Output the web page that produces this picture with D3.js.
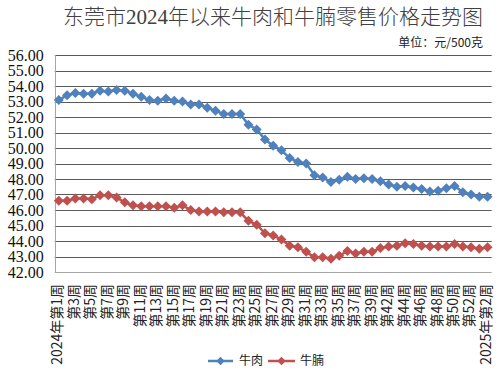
<!DOCTYPE html>
<html><head><meta charset="utf-8">
<script src="https://cdn.jsdelivr.net/npm/d3@7"></script>
<style>
html,body{margin:0;padding:0;background:#fff;}
svg{display:block;}
</style></head>
<body><div id="chart"></div>
<script>
const categories = ["2024年第1周"];
for (let w = 2; w <= 39; w++) categories.push("第" + w + "周");
for (let w = 41; w <= 52; w++) categories.push("第" + w + "周");
categories.push("2025年第1周", "2025年第2周");

const beef = [53.1,53.4,53.55,53.5,53.5,53.7,53.65,53.75,53.7,53.5,
  53.3,53.1,53.05,53.2,53.05,53.0,52.8,52.8,52.6,52.4,
  52.2,52.2,52.2,51.5,51.2,50.55,50.15,49.85,49.35,49.1,
  49.0,48.25,48.1,47.8,47.95,48.15,48.0,48.05,48.0,47.85,
  47.65,47.5,47.55,47.45,47.35,47.2,47.25,47.4,47.55,47.15,
  47.0,46.85,46.85];
const brisket = [46.6,46.6,46.75,46.75,46.7,46.95,46.95,46.8,46.5,46.3,
  46.25,46.25,46.25,46.25,46.15,46.3,46.0,45.9,45.9,45.9,
  45.85,45.85,45.85,45.3,45.05,44.5,44.35,44.1,43.7,43.6,
  43.3,42.95,42.95,42.85,43.05,43.35,43.2,43.3,43.3,43.55,
  43.65,43.7,43.85,43.8,43.7,43.65,43.65,43.65,43.8,43.65,
  43.6,43.5,43.6];
const yTicks = [42,43,44,45,46,47,48,49,50,51,52,53,54,55,56];
const seriesNames = ["牛肉", "牛腩"];
const seriesColors = ["#4F81BD", "#C0504D"];
const titleText = "东莞市2024年以来牛肉和牛腩零售价格走势图";
const unitText = "单位：元/500克";

(function () {
const W = 500, H = 379;
const pL = 54.7, pR = 491.7, pT = 55, pB = 272;

const svg = d3.select("#chart").append("svg").attr("width", W).attr("height", H);

const x = d3.scaleBand().domain(categories).range([pL, pR]).padding(0);
const xc = c => x(c) + x.bandwidth() / 2;
const y = d3.scaleLinear().domain([42, 56]).range([pB, pT]);

// title
svg.append("text").attr("x", 273).attr("y", 24).attr("text-anchor", "middle")
  .attr("font-family", "'Liberation Serif','Noto Sans CJK SC'").attr("font-size", 21)
  .attr("font-weight", 300)
  .attr("fill", "#404040").text(titleText);
svg.append("text").attr("x", 483).attr("y", 47).attr("text-anchor", "end")
  .attr("font-family", "'Noto Sans CJK SC'").attr("font-size", 12)
  .attr("fill", "#222").text(unitText);

// gridlines
svg.append("g").selectAll("line").data(yTicks.filter(t => t > 42)).join("line")
  .attr("x1", pL).attr("x2", pR)
  .attr("y1", d => Math.round(y(d)) + 0.5).attr("y2", d => Math.round(y(d)) + 0.5)
  .attr("stroke", "#5a5a5a").attr("stroke-width", 1);

// axes lines
svg.append("line").attr("x1", pL).attr("x2", pR)
  .attr("y1", Math.round(pB) + 0.5).attr("y2", Math.round(pB) + 0.5)
  .attr("stroke", "#a6a6a6");
svg.append("line").attr("x1", Math.round(pL) + 0.5).attr("x2", Math.round(pL) + 0.5)
  .attr("y1", pT).attr("y2", pB).attr("stroke", "#a6a6a6");

// y axis labels
const yAxis = svg.append("g").attr("transform", `translate(${pL},0)`)
  .call(d3.axisLeft(y).tickValues(yTicks).tickFormat(d3.format(".2f")).tickSize(0).tickPadding(11));
yAxis.select(".domain").remove();
yAxis.selectAll("text").attr("font-family", "'Liberation Serif'").attr("font-size", 16).attr("fill", "#111");

// x axis labels
const xTickVals = categories.filter((c, i) => i % 2 === 0);
const xAxis = svg.append("g").attr("transform", `translate(-1.5,${pB})`)
  .call(d3.axisBottom(x).tickValues(xTickVals).tickSize(0));
xAxis.select(".domain").remove();
xAxis.selectAll("text")
  .attr("transform", "rotate(-90)")
  .attr("x", -12).attr("y", 0).attr("dy", "0.35em")
  .attr("text-anchor", "end")
  .attr("font-family", "'Noto Sans CJK SC'").attr("font-size", 14).attr("fill", "#222");

// series
const diamond = r => `M0,${-r}L${r},0L0,${r}L${-r},0Z`;
const series = [beef, brisket];
const line = d3.line().x((d, i) => xc(categories[i])).y(d => y(d));
series.forEach((vals, si) => {
  const g = svg.append("g");
  g.append("path").datum(vals).attr("d", line).attr("fill", "none")
    .attr("stroke", seriesColors[si]).attr("stroke-width", 2.5).attr("stroke-linejoin", "round");
  g.selectAll("path.m").data(vals).join("path").attr("class", "m")
    .attr("transform", (d, i) => `translate(${xc(categories[i])},${y(d)})`)
    .attr("d", diamond(5)).attr("fill", seriesColors[si]);
});

// legend
const legendItems = [{x1: 208, x2: 233, tx: 239}, {x1: 268, x2: 295, tx: 300}];
legendItems.forEach((it, i) => {
  const ly = 361;
  svg.append("line").attr("x1", it.x1).attr("x2", it.x2).attr("y1", ly).attr("y2", ly)
    .attr("stroke", seriesColors[i]).attr("stroke-width", 2.5);
  svg.append("path").attr("transform", `translate(${(it.x1 + it.x2) / 2},${ly})`)
    .attr("d", diamond(4.2)).attr("fill", seriesColors[i]);
  svg.append("text").attr("x", it.tx).attr("y", ly).attr("dy", "0.36em")
    .attr("font-family", "'Noto Sans CJK SC'").attr("font-size", 12).attr("fill", "#222")
    .text(seriesNames[i]);
});
})();
</script>
</body></html>
